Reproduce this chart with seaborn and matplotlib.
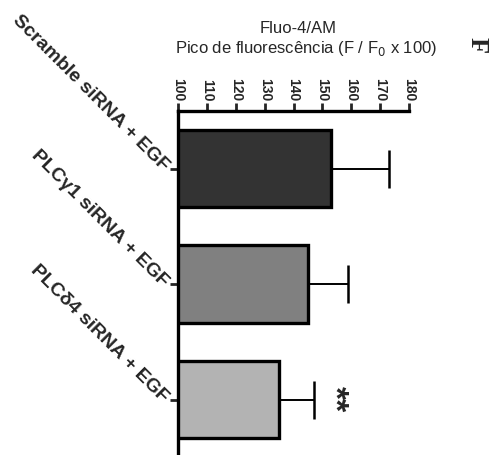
import matplotlib
matplotlib.use("Agg")
import matplotlib.pyplot as plt
import seaborn as sns
import pandas as pd

categories = ["Scramble siRNA + EGF", "PLCγ1 siRNA + EGF", "PLCδ4 siRNA + EGF"]
means = [153, 145, 135]
errors = [20, 14, 12]
colors = ["#333333", "#808080", "#b3b3b3"]
xticks = [100, 110, 120, 130, 140, 150, 160, 170, 180]

sns.set_style("white")
plt.rcParams['font.family'] = ['Liberation Sans', 'DejaVu Sans']

df = pd.DataFrame({"cat": categories, "val": means})
fig = plt.figure(figsize=(5, 4.55), dpi=100)
ax = fig.add_axes([0.356, -0.005, 0.462, 0.761])

sns.barplot(data=df, x="val", y="cat", hue="cat", palette=colors, orient="h",
            width=0.67, edgecolor="black", linewidth=2.4, legend=False, ax=ax)
ax.errorbar(means, range(len(means)), xerr=[[0]*len(errors), errors], fmt="none",
            ecolor="black", elinewidth=1.4, capsize=14, capthick=1.8)

ax.set_xlim(100, 180)
ax.set_ylim(2.5, -0.5)
ax.xaxis.tick_top()
ax.set_xticks(xticks)
ax.set_xticklabels([str(t) for t in xticks], rotation=-90, fontsize=10, fontweight="bold")
ax.tick_params(axis="x", direction="out", length=6, width=2, pad=1)
ax.tick_params(axis="y", direction="out", length=6, width=2, pad=3, left=True)
ax.set_yticks(range(len(categories)))
ax.set_yticklabels(categories, rotation=-45, ha="right", va="center",
                   rotation_mode="anchor", fontsize=14, fontweight="bold")
ax.set_xlabel("")
ax.set_ylabel("")
for s in ["right", "bottom"]:
    ax.spines[s].set_visible(False)
for s in ["top", "left"]:
    ax.spines[s].set_linewidth(2.4)
    ax.spines[s].set_color("black")

fig.text(0.596, 0.938, "Fluo-4/AM", ha="center", va="center", fontsize=12)
fig.text(0.612, 0.894, "Pico de fluorescência (F / F$_0$ x 100)", ha="center", va="center", fontsize=12)
fig.text(0.955, 0.901, "F", ha="center", va="center", fontsize=19, fontweight="bold",
         family="Liberation Serif", rotation=-90)
ax.text(means[2] + errors[2] + 7, 2, "**", ha="center", va="center", fontsize=24,
        fontweight="bold", rotation=-90)

fig.savefig("out.png", dpi=100)
